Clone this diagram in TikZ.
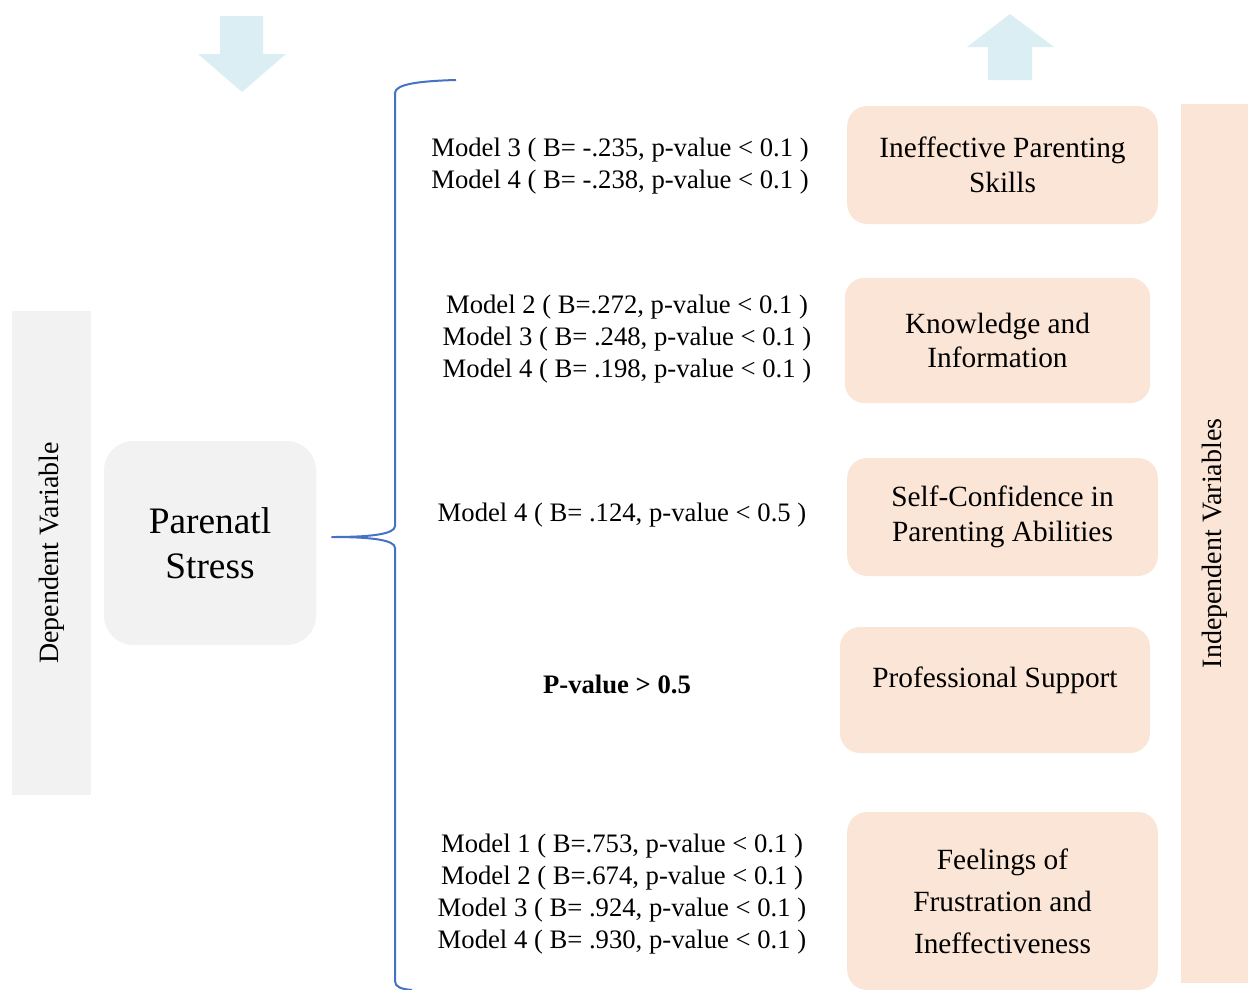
\documentclass[tikz,border=0pt]{standalone}
\usepackage{fontspec}
\setmainfont{Liberation Serif}
\definecolor{greyfill}{HTML}{F2F2F2}
\definecolor{peachfill}{HTML}{FBE5D6}
\definecolor{arrowblue}{HTML}{DAEEF3}
\definecolor{braceblue}{HTML}{4472C4}
\begin{document}
\begin{tikzpicture}[
    x=0.75pt, y=-0.75pt,
    varbox/.style={rectangle, rounded corners=15pt, fill=peachfill, draw=none,
        align=center, font=\fontsize{22}{26}\selectfont, inner sep=0pt},
    bar/.style={rectangle, draw=none, inner sep=0pt, rotate=90,
        font=\fontsize{21}{25}\selectfont},
    result/.style={align=center, font=\fontsize{20}{24}\selectfont, inner sep=0pt},
    bigarrow/.style={fill=arrowblue, draw=none},
    brace/.style={draw=braceblue, line width=1.5pt, line join=round}
]
    \useasboundingbox (0,0) rectangle (1248,989);

    % arrows on top
    \fill[bigarrow] (220,16) -- (263,16) -- (263,54) -- (286,54) -- (242,92)
        -- (198,54) -- (220,54) -- cycle;
    \fill[bigarrow] (1010,14) -- (1054,47) -- (1032,47) -- (1032,80)
        -- (988,80) -- (988,47) -- (967,47) -- cycle;

    % side bars
    \node[bar, fill=greyfill, minimum width=363pt, minimum height=59.25pt]
        (depvar) at (51.5,553) {Dependent Variable};
    \node[bar, fill=peachfill, minimum width=659.25pt, minimum height=50.25pt]
        (indepvar) at (1214.5,543.5) {Independent Variables};

    % dependent variable
    \node[rectangle, rounded corners=22pt, fill=greyfill, align=center,
        minimum width=159pt, minimum height=153pt, inner sep=0pt,
        font=\fontsize{28}{34}\selectfont] (stress) at (210,543) {Parenatl\\Stress};

    % independent variables
    \node[varbox, minimum width=233pt, minimum height=88.5pt] (skills) at (1002.5,165)
        {Ineffective Parenting\\Skills};
    \node[varbox, minimum width=229pt, minimum height=94pt] (knowledge) at (997.5,340.5)
        {Knowledge and\\Information};
    \node[varbox, minimum width=233pt, minimum height=88.5pt] (confidence) at (1002.5,517)
        {Self-Confidence in\\Parenting Abilities};
    \node[varbox, minimum width=232.5pt, minimum height=94.5pt, text depth=19pt]
        (support) at (995,690) {Professional Support};
    \node[varbox, minimum width=233pt, minimum height=133.5pt,
        font=\fontsize{22}{31.5}\selectfont] (frustration) at (1002.5,901)
        {Feelings of\\Frustration and\\Ineffectiveness};

    % regression results
    \node[result] (resskills) at (620,166)
        {Model 3 ( B= -.235, p-value < 0.1 )\\Model 4 ( B= -.238, p-value < 0.1 )};
    \node[result] (resknowledge) at (627,339)
        {Model 2 ( B=.272, p-value < 0.1 )\\Model 3 ( B= .248, p-value < 0.1 )\\Model 4 ( B= .198, p-value < 0.1 )};
    \node[result] (resconfidence) at (622,515)
        {Model 4 ( B= .124, p-value < 0.5 )};
    \node[result, font=\fontsize{20}{24}\selectfont\bfseries] (ressupport) at (617,684)
        {P-value > 0.5};
    \node[result] (resfrustration) at (622,894)
        {Model 1 ( B=.753, p-value < 0.1 )\\Model 2 ( B=.674, p-value < 0.1 )\\Model 3 ( B= .924, p-value < 0.1 )\\Model 4 ( B= .930, p-value < 0.1 )};

    % brace
    \coordinate (bracetop) at (456,80);
    \coordinate (bracetip) at (332,537);
    \coordinate (bracebottom) at (412,990);
    \draw[brace] (bracetop) .. controls (420,81) and (395,84) .. (395,93)
        -- (395,526) .. controls (395,534) and (372,537) .. (bracetip)
        .. controls (372,537) and (395,540) .. (395,548)
        -- (395,981) .. controls (395,987) and (401,989) .. (bracebottom);
\end{tikzpicture}
\end{document}
